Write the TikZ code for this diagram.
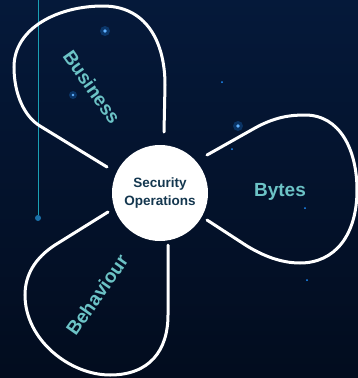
\documentclass[tikz,border=0pt]{standalone}
\usepackage{fontspec}
\setmainfont{Liberation Sans}
\usetikzlibrary{positioning}
\definecolor{bgtop}{HTML}{05193A}
\definecolor{bgbottom}{HTML}{020C1E}
\definecolor{petaltext}{HTML}{6CC3C6}
\definecolor{coretext}{HTML}{14374F}
\definecolor{pinline}{HTML}{1AA0B5}
\definecolor{pindot}{HTML}{1A70A8}
\definecolor{spark}{HTML}{1E90FF}
\tikzset{
  petal/.style={draw=white,line width=3pt,line cap=round},
  petallabel/.style={font=\bfseries\fontsize{19}{22}\selectfont,text=petaltext,inner sep=0pt},
  sparkglow/.style={fill=spark,opacity=0.25},
  sparkcore/.style={fill=spark!70!white}
}

\begin{document}
\begin{tikzpicture}[x=1pt,y=-1pt]
\useasboundingbox (0,0) rectangle (358,378);
\shade[top color=bgtop,bottom color=bgbottom] (0,0) rectangle (358,378);

\fill[sparkglow] (105,31) circle (5);
\fill[sparkcore] (105,31) circle (1.8);
\fill[sparkglow] (73,95) circle (4);
\fill[sparkcore] (73,95) circle (1.4);
\fill[sparkglow] (238,126) circle (5);
\fill[sparkcore] (238,126) circle (1.8);
\fill[spark] (232,149) circle (1);
\fill[spark] (222,82) circle (1);
\fill[spark] (305,208) circle (1);
\fill[spark] (307,280) circle (1);

\coordinate (pintop) at (38,0);
\node[circle,fill=pindot,inner sep=0pt,minimum size=6pt] (pin) at (38,218) {};
\draw[pinline,line width=1pt] (pintop) -- (pin);

\draw[petal] (107,167) -- (40,126) .. controls (25,117) and (14,95) .. (14,67)
  .. controls (14,28) and (58,6) .. (103,6) .. controls (145,6) and (165,40) .. (165,85) -- (164,132);
\draw[petal] (207,155) -- (255,128) .. controls (275,117) and (290,115) .. (305,115)
  .. controls (340,115) and (357,150) .. (357,190) .. controls (357,235) and (335,263) .. (300,263)
  .. controls (280,263) and (262,255) .. (247,246) -- (207,220);
\draw[petal] (108,212) -- (55,245) .. controls (35,258) and (25,275) .. (25,295)
  .. controls (25,340) and (70,375) .. (110,375) .. controls (150,375) and (168,350) .. (168,315) -- (168,245);

\node[circle,fill=white,minimum size=96pt,inner sep=0pt,align=center,
  font=\bfseries\fontsize{13.5}{17.5}\selectfont,text=coretext] (secops) at (160,193) {Security\\Operations};

\node[petallabel,rotate=-55] (business) at (92,87) {Business};
\node[petallabel] (bytes) at (280,192) {Bytes};
\node[petallabel,rotate=55] (behaviour) at (97,295) {Behaviour};

\end{tikzpicture}
\end{document}
